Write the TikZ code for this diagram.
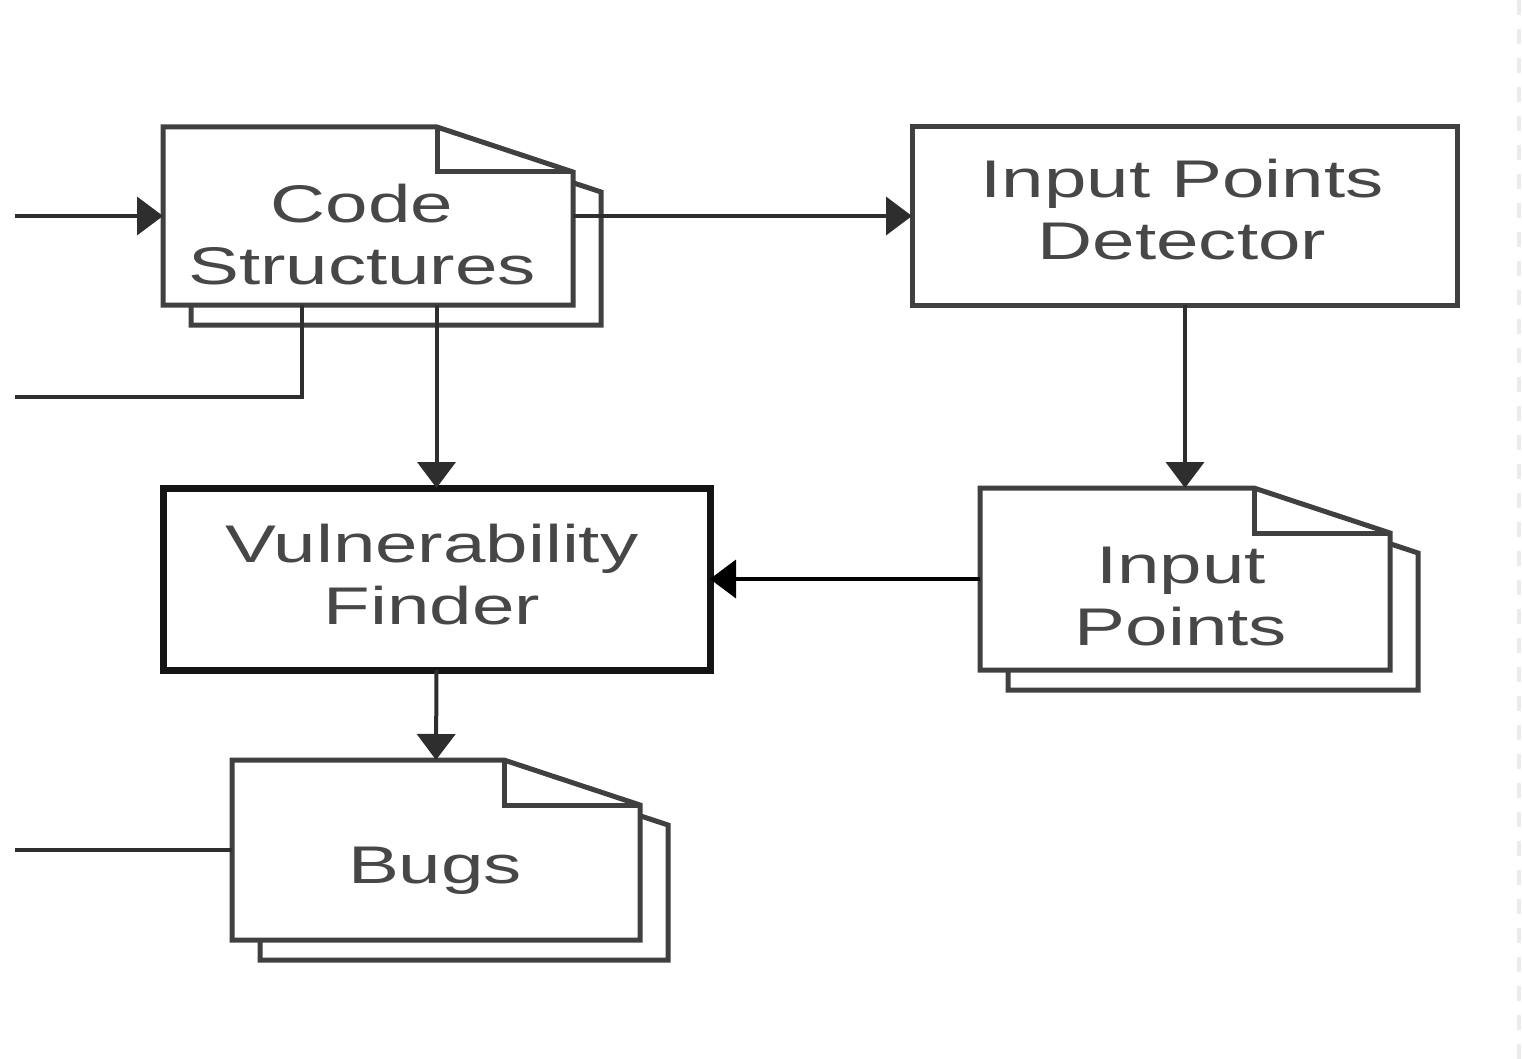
\documentclass[tikz,border=0pt]{standalone}
\usepackage{fontspec}
\newfontfamily\labelfont[FakeStretch=1.44]{Liberation Sans}
\usetikzlibrary{arrows.meta,calc}

\tikzset{
  sheet/.style={draw=black!75, line width=5pt, fill=white, line join=miter},
  pagehold/.style={inner sep=0pt, outer sep=0pt},
  procbox/.style={draw=black!75, line width=5pt, fill=white, inner sep=0pt, outer sep=0pt},
  wire/.style={draw=black!82, line width=4pt},
  flow/.style={wire, -{Triangle[width=38pt,length=26pt]}},
  lbl/.style={font=\labelfont\fontsize{53}{62}\selectfont, text=black!72, align=center, inner sep=0pt},
}

% a stacked document: back sheet, front sheet with a folded corner
\newcommand\docsheet[1]{%
  \draw[sheet] ([shift={(28,20)}]#1.north west) -- ([shift={(-108,20)}]#1.north east)
     -- ([shift={(28,65)}]#1.north east) -- ([shift={(28,20)}]#1.south east)
     -- ([shift={(28,20)}]#1.south west) -- cycle;
  \draw[sheet] (#1.north west) -- ([xshift=-136pt]#1.north east)
     -- ([yshift=-45pt]#1.north east) -- (#1.south east) -- (#1.south west) -- cycle;
  \draw[sheet, fill=none] ([xshift=-136pt]#1.north east)
     -- ([xshift=-136pt,yshift=-45pt]#1.north east) -- ([yshift=-45pt]#1.north east);
}

\begin{document}
\begin{tikzpicture}[x=1pt,y=-1pt]
\useasboundingbox (0,0) rectangle (1522,1059);

% faint dashed margin line
\draw[black!8, line width=4pt, dash pattern=on 15pt off 14pt] (1519,0) -- (1519,1059);

% documents
\node[pagehold, minimum width=410pt, minimum height=178pt] (cs) at (368,216) {};
\node[pagehold, minimum width=410pt, minimum height=182pt] (ip) at (1185,579) {};
\node[pagehold, minimum width=408pt, minimum height=180pt] (bugs) at (436,850) {};
\docsheet{cs}
\docsheet{ip}
\docsheet{bugs}

% processes
\node[procbox, minimum width=545pt, minimum height=178pt] (ipd) at (1184.5,216) {};
\node[procbox, draw=black!92, line width=7pt, minimum width=547pt, minimum height=182pt] (vf) at (436.5,579) {};

% connectors
\coordinate (inA) at (15,216);
\coordinate (inB) at (15,397);
\coordinate (inC) at (15,850);
\coordinate (csTap) at (302,305);
\draw[flow] (inA) -- (cs.west);
\draw[flow] (cs.east) -- (ipd.west);
\draw[wire] (inB) -| (csTap);
\draw[flow] (vf.north |- cs.south) -- (vf.north);
\draw[flow] (ip.north |- ipd.south) -- (ip.north);
\draw[flow, draw=black] (ip.west) -- (vf.east);
\draw[flow] (vf.south) -- (bugs.north);
\draw[wire] (inC) -- (bugs.west);

% labels
\node[lbl] (csT) at (362,235) {Code\\Structures};
\node[lbl] (ipdT) at (1182,210) {Input Points\\Detector};
\node[lbl] (vfT) at (432,575) {Vulnerability\\Finder};
\node[lbl] (ipT) at (1181,597) {Input\\Points};
\node[lbl, anchor=base] (bugsT) at (435,883) {Bugs};
\end{tikzpicture}
\end{document}
